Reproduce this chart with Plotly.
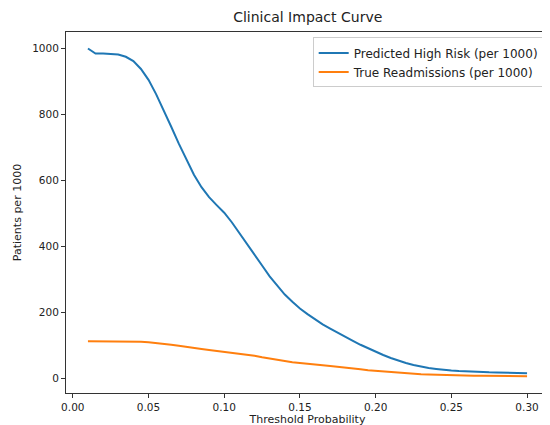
import plotly.graph_objects as go

# threshold probabilities
thresholds = [0.010, 0.015, 0.020, 0.025, 0.030, 0.035, 0.040, 0.045, 0.050, 0.055,
              0.060, 0.065, 0.070, 0.075, 0.080, 0.085, 0.090, 0.095, 0.100, 0.105,
              0.110, 0.115, 0.120, 0.125, 0.130, 0.135, 0.140, 0.145, 0.150, 0.155,
              0.160, 0.165, 0.170, 0.175, 0.180, 0.185, 0.190, 0.195, 0.200, 0.205,
              0.210, 0.215, 0.220, 0.225, 0.230, 0.235, 0.240, 0.245, 0.250, 0.255,
              0.260, 0.265, 0.270, 0.275, 0.280, 0.285, 0.290, 0.295, 0.300]

# patients per 1000 classified high risk
high_risk = [1000, 985, 985, 984, 982, 975, 962, 938, 905, 862,
             815, 763, 712, 663, 618, 580, 550, 526, 503, 474,
             442, 410, 377, 343, 310, 281, 255, 233, 213, 196,
             180, 165, 152, 139, 127, 115, 103, 92, 82, 72,
             63, 55, 48, 42, 37, 33, 30, 27, 25, 23.5,
             22, 21, 20, 19.5, 19, 18.5, 18, 17.5, 17]

# true readmissions per 1000
true_pos = [114, 114, 114, 114, 114, 114, 113, 112, 111, 109,
            106, 103, 100, 96, 93, 90, 87, 84, 82, 80,
            77, 74, 70, 65, 61, 57, 53, 50, 48, 45,
            43, 41, 39, 37, 34, 31, 29, 26, 24, 22,
            20, 18, 16, 15, 14, 13, 12, 12, 11, 10,
            10, 9, 9, 9, 8, 8, 8, 8, 8]

fig = go.Figure()
fig.add_trace(go.Scatter(x=thresholds, y=high_risk, mode='lines',
                         name='Predicted High Risk (per 1000)',
                         line=dict(color='#1f77b4', width=2)))
fig.add_trace(go.Scatter(x=thresholds, y=true_pos, mode='lines',
                         name='True Readmissions (per 1000)',
                         line=dict(color='#ff7f0e', width=2)))

axis_style = dict(showline=True, linecolor='#333333', linewidth=1, mirror=True,
                  ticks='outside', ticklen=4, tickcolor='#333333',
                  showgrid=False, zeroline=False,
                  tickfont=dict(size=10.5, color='#222222'),
                  title_font=dict(size=11, color='#222222'))

fig.update_layout(
    width=550, height=425,
    margin=dict(l=57, r=8, t=24, b=40),
    paper_bgcolor='white', plot_bgcolor='white',
    font=dict(family='DejaVu Sans', color='#222222'),
    title=dict(text='Clinical Impact Curve', x=0.545, xanchor='center',
               y=0.99, yanchor='top', font=dict(size=14, color='#222222')),
    legend=dict(x=0.989, y=0.985, xanchor='right', yanchor='top',
                bordercolor='#cccccc', borderwidth=1, bgcolor='rgba(255,255,255,0.8)',
                font=dict(size=12, color='#222222'), tracegroupgap=0),
)
fig.update_xaxes(range=[-0.0045, 0.3145], tickvals=[0, 0.05, 0.10, 0.15, 0.20, 0.25, 0.30],
                 tickformat='.2f', title_text='Threshold Probability',
                 title_standoff=3, **axis_style)
fig.update_yaxes(range=[-43, 1050], tickvals=[0, 200, 400, 600, 800, 1000],
                 title_text='Patients per 1000', title_standoff=8, **axis_style)

fig.write_html("out.html")
